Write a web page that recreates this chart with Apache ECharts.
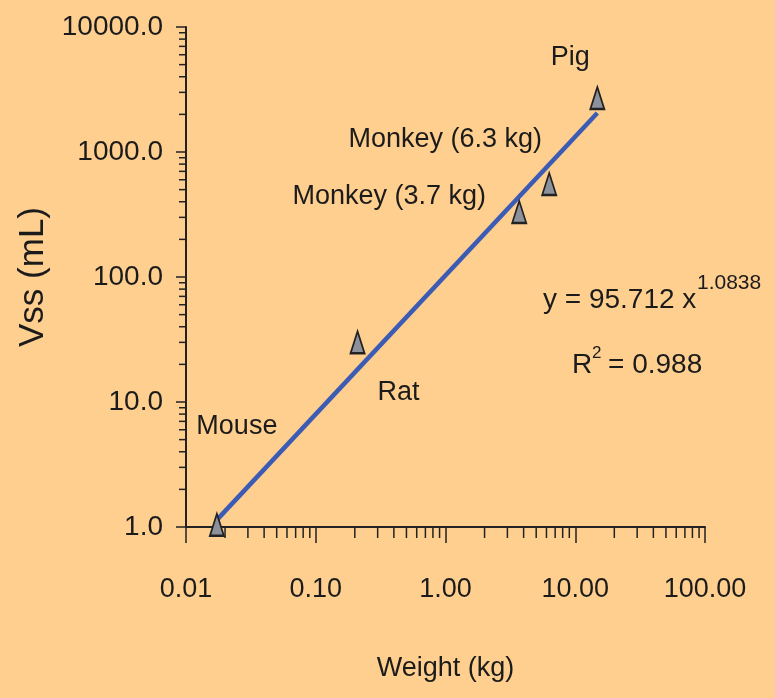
<!DOCTYPE html>
<html>
<head>
<meta charset="utf-8">
<script src="https://cdn.jsdelivr.net/npm/echarts@6/dist/echarts.min.js"></script>
<style>
html,body{margin:0;padding:0;background:#FECF8E;}
#chart{width:775px;height:698px;}
</style>
</head>
<body>
<div id="chart"></div>
<script>
// ---- data ----
const species = ['Mouse', 'Rat', 'Monkey (3.7 kg)', 'Monkey (6.3 kg)', 'Pig'];
const weightKg = [0.0173, 0.21, 3.7, 6.3, 14.8];
const vssML = [1.04, 30, 331, 555, 2700];
const fitLineX = [0.0173, 14.8];
const fitLineY = [1.14, 2050];
const xTickDecades = [0.01, 0.1, 1, 10];
const yTickDecades = [1, 10, 100, 1000];
const minorFactors = [2, 3, 4, 5, 6, 7, 8, 9];
const equationText = 'y = 95.712 x';
const exponentText = '1.0838';
const r2Text = '= 0.988';

// ---- layout / style ----
const FONT = '"Liberation Sans", Arial, sans-serif';
const labelOffsets = [[20, -98], [41, 50], [-130, -15], [-104, -44], [-27, -41]];
const textColor = '#1b1b1b';
const axisColor = '#222';

const minorX = [];
xTickDecades.forEach(d => minorFactors.forEach(f => minorX.push([d * f, 'x'])));
const minorY = [];
yTickDecades.forEach(d => minorFactors.forEach(f => minorY.push([d * f, 'y'])));

const chart = echarts.init(document.getElementById('chart'));

const scatterData = species.map((n, i) => ({
  name: n,
  value: [weightKg[i], vssML[i]]
}));

const option = {
  backgroundColor: '#FECF8E',
  animation: false,
  grid: { left: 186, right: 70, top: 27, bottom: 171, containLabel: false, outerBoundsMode: 'none' },
  xAxis: {
    type: 'log', logBase: 10, min: 0.01, max: 100,
    name: 'Weight (kg)', nameLocation: 'middle', nameGap: 128,
    nameTextStyle: { fontFamily: FONT, fontSize: 27, color: textColor },
    axisLine: { lineStyle: { color: axisColor, width: 2 } },
    axisTick: { show: true, length: 16, lineStyle: { color: axisColor, width: 1.5 } },
    axisLabel: { margin: 49, fontFamily: FONT, fontSize: 27, color: textColor,
      formatter: v => Number(v).toFixed(2) },
    splitLine: { show: false }
  },
  yAxis: {
    type: 'log', logBase: 10, min: 1, max: 10000,
    name: 'Vss (mL)', nameLocation: 'middle', nameGap: 108,
    nameTextStyle: { fontFamily: FONT, fontSize: 35, color: textColor },
    axisLine: { lineStyle: { color: axisColor, width: 2 } },
    axisTick: { show: true, length: 10, lineStyle: { color: axisColor, width: 1.5 } },
    axisLabel: { margin: 23, fontFamily: FONT, fontSize: 28, color: textColor,
      formatter: v => Number(v).toFixed(1) },
    splitLine: { show: false }
  },
  series: [
    {
      type: 'custom',
      coordinateSystem: 'cartesian2d',
      silent: true,
      clip: false,
      data: minorX.concat(minorY).map(t => (t[1] === 'x' ? [t[0], 1] : [0.01, t[0]])),
      renderItem: function (params, api) {
        const p = api.coord([api.value(0), api.value(1)]);
        const isX = params.dataIndex < minorX.length;
        const shape = isX
          ? { x1: p[0], y1: p[1], x2: p[0], y2: p[1] + 11 }
          : { x1: p[0], y1: p[1], x2: p[0] - 7, y2: p[1] };
        return { type: 'line', shape: shape, style: { stroke: axisColor, lineWidth: 1.5 } };
      },
      z: 1
    },
    {
      type: 'line',
      data: fitLineX.map((x, i) => [x, fitLineY[i]]),
      showSymbol: false,
      symbol: 'none',
      lineStyle: { color: '#3B5BB5', width: 4.5 },
      z: 2
    },
    {
      type: 'scatter',
      data: scatterData,
      symbol: 'triangle',
      symbolSize: [14, 22],
      itemStyle: { color: '#8C919B', borderColor: '#222', borderWidth: 2, opacity: 1 },
      label: {
        show: true, position: 'inside', formatter: '{b}',
        fontFamily: FONT, fontSize: 27, color: textColor
      },
      labelLayout: function (params) {
        const o = labelOffsets[params.dataIndex];
        return { dx: o[0], dy: o[1], hideOverlap: false };
      },
      z: 3
    }
  ],
  graphic: [
    { type: 'text', left: 543, top: 286, style: { text: equationText, fontFamily: FONT, fontSize: 28, fill: textColor } },
    { type: 'text', left: 697, top: 273, style: { text: exponentText, fontFamily: FONT, fontSize: 21, fill: textColor } },
    { type: 'text', left: 572, top: 351, style: { text: 'R', fontFamily: FONT, fontSize: 28, fill: textColor } },
    { type: 'text', left: 592, top: 345, style: { text: '2', fontFamily: FONT, fontSize: 17, fill: textColor } },
    { type: 'text', left: 608, top: 351, style: { text: r2Text, fontFamily: FONT, fontSize: 28, fill: textColor } }
  ]
};
chart.setOption(option);
</script>
</body>
</html>
